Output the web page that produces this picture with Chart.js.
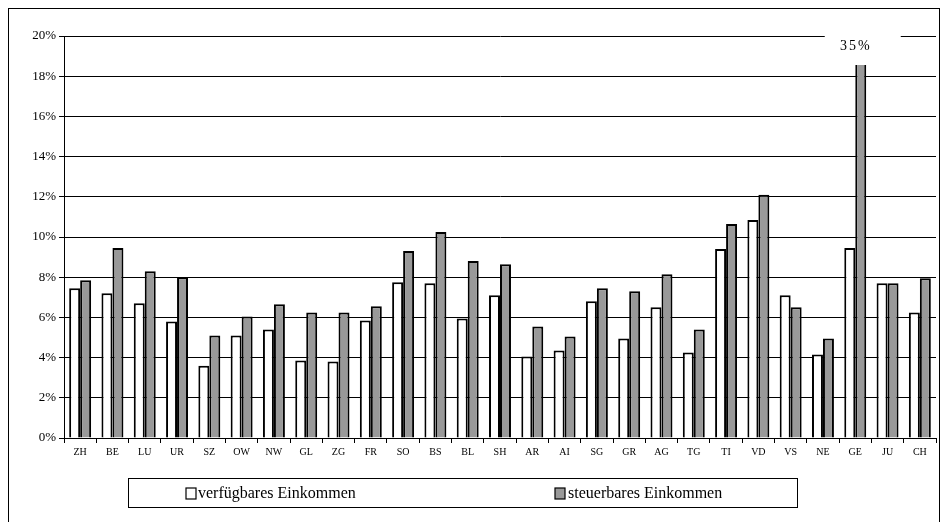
<!DOCTYPE html>
<html>
<head>
<meta charset="utf-8">
<script src="https://cdn.jsdelivr.net/npm/chart.js@4"></script>
<style>
  body { margin: 0; background: #fff; }
  #wrap { width: 941px; height: 522px; position: relative; }
</style>
</head>
<body>
<div id="wrap"><canvas id="c"></canvas></div>
<script>
const CANTONS = ['ZH','BE','LU','UR','SZ','OW','NW','GL','ZG','FR','SO','BS','BL','SH','AR','AI','SG','GR','AG','TG','TI','VD','VS','NE','GE','JU','CH'];
const VERFUEGBAR = [7.45,7.2,6.7,5.8,3.6,5.1,5.4,3.85,3.8,5.85,7.75,7.7,5.95,7.1,4.05,4.35,6.8,4.95,6.5,4.25,9.4,10.85,7.1,4.15,9.45,7.7,6.25];
const STEUERBAR  = [7.85,9.45,8.3,8.0,5.1,6.05,6.65,6.25,6.25,6.55,9.3,10.25,8.8,8.65,5.55,5.05,7.45,7.3,8.15,5.4,10.65,12.1,6.5,4.95,35,7.7,7.95];
const LABELS = ['verfügbares Einkommen', 'steuerbares Einkommen'];
const SERIF = "'Liberation Serif', 'DejaVu Serif', serif";

// frame, "35%" note and legend box
const extras = {
  id: 'extras',
  afterDraw(chart) {
    const ctx = chart.ctx, ca = chart.chartArea;
    ctx.save();
    // label box over clipped GE bar
    const geX = chart.getDatasetMeta(1).data[24].x;
    ctx.fillStyle = '#fff';
    ctx.fillRect(geX - 36, ca.top - 2, 76, 31);
    ctx.fillStyle = '#000';
    ctx.font = '14px ' + SERIF;
    ctx.letterSpacing = '2px';
    ctx.textAlign = 'center';
    ctx.textBaseline = 'middle';
    ctx.fillText('35%', geX - 5, ca.top + 10);
    ctx.letterSpacing = '0px';
    // outer frame
    ctx.strokeStyle = '#000';
    ctx.lineWidth = 1;
    ctx.strokeRect(8.5, 8.5, 931, 520);
    // legend
    ctx.strokeRect(128.5, 478.5, 669, 29);
    ctx.lineWidth = 1.2;
    ctx.fillStyle = '#fff';
    ctx.fillRect(186, 488, 10, 11); ctx.strokeRect(186, 488, 10, 11);
    ctx.fillStyle = '#999';
    ctx.fillRect(555, 488, 10, 11); ctx.strokeRect(555, 488, 10, 11);
    ctx.fillStyle = '#000';
    ctx.font = '16px ' + SERIF;
    ctx.textAlign = 'left';
    ctx.fillText(LABELS[0], 198, 494);
    ctx.fillText(LABELS[1], 568, 494);
    ctx.restore();
  }
};

new Chart(document.getElementById('c'), {
  type: 'bar',
  data: {
    labels: CANTONS,
    datasets: [
      { label: LABELS[0], data: VERFUEGBAR, backgroundColor: '#fff', borderColor: '#000', borderWidth: 2 },
      { label: LABELS[1], data: STEUERBAR, backgroundColor: '#999', borderColor: '#000', borderWidth: 2 },
    ],
  },
  options: {
    responsive: true,
    maintainAspectRatio: false,
    animation: false,
    devicePixelRatio: 1,
    layout: { padding: { left: 8, top: 36, right: 5, bottom: 60 } },
    datasets: { bar: { categoryPercentage: 0.68, barPercentage: 1 } },
    plugins: { legend: { display: false }, tooltip: { enabled: false } },
    scales: {
      x: {
        afterFit: s => { s.height = 24; },
        border: { color: '#000' },
        grid: { offset: true, drawOnChartArea: false, color: '#000', tickLength: 5 },
        ticks: { color: '#000', font: { family: SERIF, size: 10 }, maxRotation: 0, autoSkip: false },
      },
      y: {
        min: 0, max: 20,
        afterFit: s => { s.width = 56; },
        border: { color: '#000' },
        grid: { color: '#000', tickLength: 5 },
        ticks: { stepSize: 2, color: '#000', font: { family: SERIF, size: 13 }, callback: v => v + '%' },
      },
    },
  },
  plugins: [extras],
});
</script>
</body>
</html>
